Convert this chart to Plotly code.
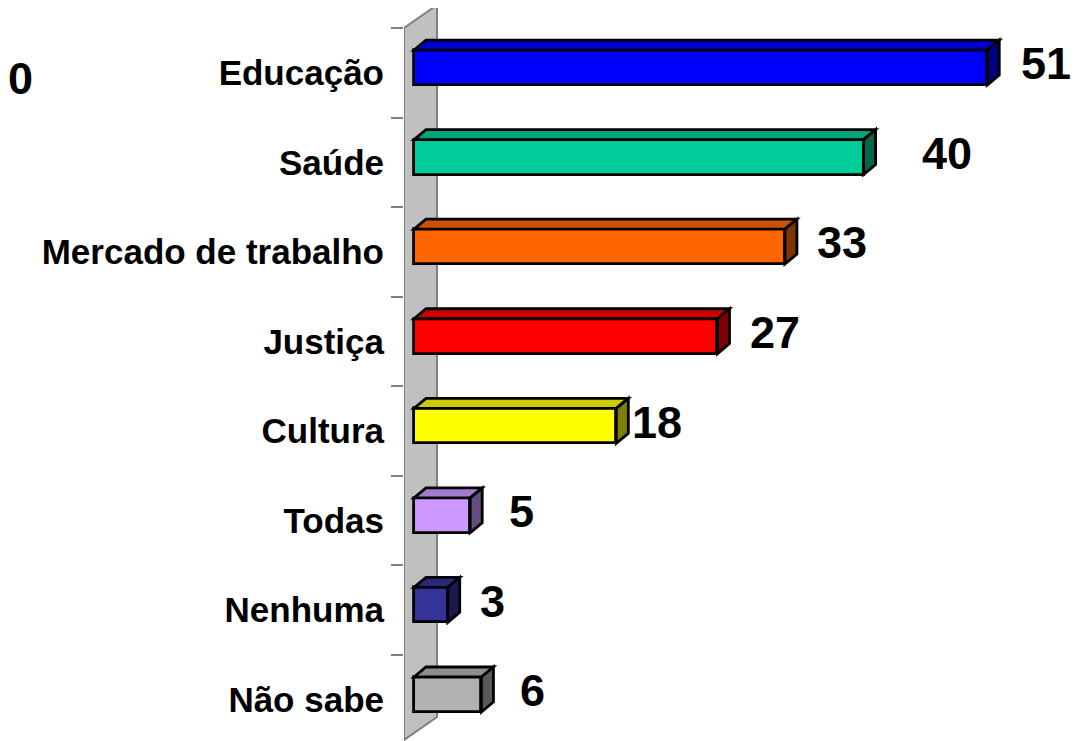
import plotly.graph_objects as go

categories = ["Educação", "Saúde", "Mercado de trabalho", "Justiça", "Cultura", "Todas", "Nenhuma", "Não sabe"]
values = [51, 40, 33, 27, 18, 5, 3, 6]
front_colors = ["#0000FF", "#00CC99", "#FF6600", "#FF0000", "#FFFF00", "#CC99FF", "#333399", "#B2B2B2"]
label_shift_px = [20, 44, 18, 19, 2, 25, 18, 25]

W, H = 1083, 741
PAGE_OFF = 8  # default page body margin
ML = 404 - PAGE_OFF
PX_PER_UNIT = 11.24
PX_PER_CAT = 89.57
TOP_PX = 28 - PAGE_OFF
x_min = -10 / PX_PER_UNIT
x_max = x_min + (W - ML) / PX_PER_UNIT
y_top = -0.5 - TOP_PX / PX_PER_CAT
y_bot = -0.5 + (H - TOP_PX) / PX_PER_CAT

def shade(hexc, f):
    r, g, b = int(hexc[1:3], 16), int(hexc[3:5], 16), int(hexc[5:7], 16)
    return "#%02X%02X%02X" % (int(r * f), int(g * f), int(b * f))

BAR_W = 0.39
BAR_OFF = -0.254
DX = 12 / PX_PER_UNIT
DY = 10 / PX_PER_CAT
WALL_DX = 33 / PX_PER_UNIT
WALL_DY = 23 / PX_PER_CAT

ys = list(range(len(categories)))
FONT = "Liberation Sans, Arial, sans-serif"

fig = go.Figure()
fig.add_trace(go.Bar(
    x=values, y=ys, orientation="h", base=0,
    width=BAR_W, offset=BAR_OFF,
    marker=dict(color=front_colors, line=dict(color="black", width=2.8)),
    hoverinfo="skip", showlegend=False,
))

shapes = []
# back wall
shapes.append(dict(
    type="path", xref="x", yref="y", layer="below",
    path=f"M {x_min},{-0.5} L {x_min + WALL_DX},{-0.5 - WALL_DY} L {x_min + WALL_DX},{7.45 - WALL_DY} L {x_min},{7.45} Z",
    fillcolor="#C0C0C0", line=dict(color="#808080", width=2),
))
for i, (v, c) in enumerate(zip(values, front_colors)):
    yt = i + BAR_OFF
    yb = yt + BAR_W
    shapes.append(dict(
        type="path", xref="x", yref="y", layer="above",
        path=f"M 0,{yt} L {v},{yt} L {v + DX},{yt - DY} L {DX},{yt - DY} Z",
        fillcolor=shade(c, 0.8), line=dict(color="black", width=2.8),
    ))
    shapes.append(dict(
        type="path", xref="x", yref="y", layer="above",
        path=f"M {v},{yt} L {v + DX},{yt - DY} L {v + DX},{yb - DY} L {v},{yb} Z",
        fillcolor=shade(c, 0.5), line=dict(color="black", width=2.8),
    ))

annotations = []
for i, (v, s) in enumerate(zip(values, label_shift_px)):
    annotations.append(dict(
        x=v + DX, y=i - 0.1, xref="x", yref="y", text=str(v), showarrow=False,
        xanchor="left", yanchor="middle", xshift=s,
        font=dict(family=FONT, size=45, color="black", weight="bold"),
    ))
annotations.append(dict(
    x=0, y=1 - 70 / H, xref="paper", yref="paper", text="0", showarrow=False,
    xanchor="left", yanchor="middle", xshift=-ML - 2,
    font=dict(family=FONT, size=45, color="black", weight="bold"),
))

fig.update_layout(
    width=W, height=H,
    margin=dict(l=ML, r=0, t=0, b=0),
    paper_bgcolor="white", plot_bgcolor="white",
    shapes=shapes, annotations=annotations,
    xaxis=dict(range=[x_min, x_max], visible=False, fixedrange=True),
    yaxis=dict(
        range=[y_bot, y_top], tickmode="array", tickvals=ys, ticktext=categories,
        ticks="", showgrid=False, zeroline=False, showline=False,
        tickfont=dict(family=FONT, size=35, color="black", weight="bold"),
        ticklabelstandoff=19,
        minor=dict(tickmode="array", tickvals=[k - 0.5 for k in range(len(categories) + 1)],
                   ticks="outside", ticklen=12, tickwidth=2, tickcolor="#808080", showgrid=False),
    ),
    bargap=0,
)

fig.write_html("out.html")
